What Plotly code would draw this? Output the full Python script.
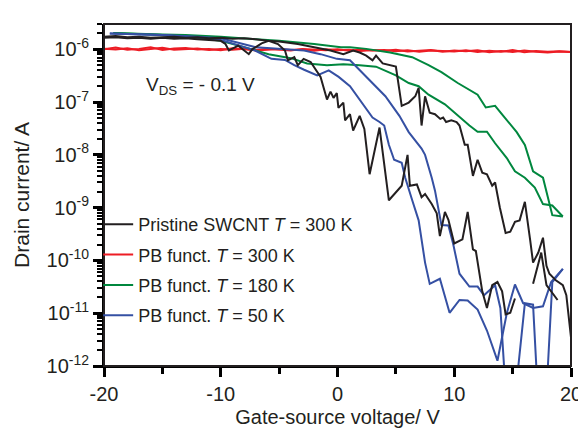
import plotly.graph_objects as go

# ---------------- data (gate voltage V, drain current A) ----------------
red_fwd_V = list(range(-20, 21))
red_fwd_I = [1.00e-6, 1.08e-6, 0.98e-6, 1.02e-6, 1.10e-6, 0.97e-6, 1.04e-6, 1.06e-6, 0.99e-6, 1.01e-6,
             0.96e-6, 1.05e-6, 1.00e-6, 0.97e-6, 1.03e-6, 0.99e-6, 0.95e-6, 1.02e-6, 0.98e-6, 0.96e-6,
             1.00e-6, 0.94e-6, 0.99e-6, 0.95e-6, 0.97e-6, 0.92e-6, 0.96e-6, 0.90e-6, 0.95e-6, 0.93e-6,
             0.91e-6, 0.96e-6, 0.89e-6, 0.94e-6, 0.90e-6, 0.97e-6, 0.88e-6, 0.93e-6, 0.90e-6, 0.92e-6, 0.89e-6]
red_back_V = list(range(-20, 21))
red_back_I = [1.03e-6, 0.99e-6, 1.05e-6, 0.96e-6, 1.01e-6, 1.07e-6, 0.98e-6, 1.00e-6, 1.04e-6, 0.97e-6,
              1.02e-6, 0.98e-6, 1.03e-6, 0.95e-6, 1.00e-6, 1.02e-6, 0.97e-6, 0.99e-6, 0.94e-6, 1.00e-6,
              0.96e-6, 0.98e-6, 0.93e-6, 0.97e-6, 0.94e-6, 0.98e-6, 0.91e-6, 0.94e-6, 0.97e-6, 0.90e-6,
              0.95e-6, 0.92e-6, 0.96e-6, 0.88e-6, 0.93e-6, 0.89e-6, 0.95e-6, 0.90e-6, 0.87e-6, 0.91e-6, 0.89e-6]

black_a_V = [-20, -19, -18, -17, -16, -15, -14, -13, -12, -11, -10, -9.6, -9.3, -8.5, -7.6, -7.3, -6.5, -5.9,
             -5.1, -4.5, -4.25, -3.7, -3.4, -2.9, -2.3, -1.45, -0.9, -0.6, -0.34, -0.06, 0.08, 0.5, 0.65,
             1.07, 1.34, 1.9, 2.3, 2.75, 3.6, 4.4, 5.3, 5.5, 6.0, 6.2, 6.8, 7.2, 7.5, 8.07, 8.5, 8.77, 9.2,
             9.5, 10.0, 10.7, 11.15, 11.6, 11.85, 12.4, 12.8, 13.25, 13.7, 14.1, 14.4, 14.8, 15.2, 16.0,
             16.75, 17.45, 17.9, 18.85]
black_a_I = [1.66e-6, 1.70e-6, 1.62e-6, 1.66e-6, 1.58e-6, 1.66e-6, 1.58e-6, 1.62e-6, 1.55e-6, 1.51e-6,
             1.45e-6, 1.26e-6, 9.5e-7, 1.17e-6, 8.1e-7, 1.0e-6, 1.30e-6, 1.45e-6, 1.26e-6, 9.5e-7, 6.2e-7,
             7.1e-7, 5.0e-7, 6.6e-7, 5.75e-7, 3.0e-7, 1.12e-7, 1.58e-7, 1.2e-7, 1.48e-7, 7.8e-8, 9.8e-8,
             4.5e-8, 5.9e-8, 2.9e-8, 5.5e-8, 3.1e-8, 4.3e-9, 3.3e-8, 1.38e-9, 2.4e-9, 2.6e-9, 1.0e-8, 2.6e-9,
             2.75e-9, 1.58e-9, 1.82e-9, 1.17e-9, 7.8e-10, 2.9e-10, 8.3e-10, 5.9e-10, 2.1e-10, 2.5e-10,
             8.3e-10, 1.62e-10, 1.51e-10, 2.6e-11, 1.26e-11, 3.4e-11, 3.9e-11, 2.6e-11, 9.5e-12, 1.02e-11,
             1.9e-11, None, 3.6e-11, 1.41e-10, 3.4e-11, 1.78e-11]

black_b_V = [-20, -19, -18, -17, -16, -15, -14, -13, -12, -11, -10, -9, -8, -7, -6, -5, -4.25, -3.4, -2,
             -0.6, 0.5, 1.34, 1.9, 2.46, 3.0, 3.3, 3.87, 4.4, 5.0, 5.5, 6.1, 6.66, 6.95, 7.2, 7.5, 7.9, 8.35,
             8.8, 9.05, 9.3, 9.75, 10.2, 10.45, 10.9, 11.15, 11.6, 12.0, 12.4, 12.8, 13.25, 13.5, 13.9, 14.4,
             14.8, 15.2, 15.6, 16.05, 16.5, 16.75, 17.2, 17.6, 17.9, 18.15, 18.7, 19.3, 19.6, 20.0]
black_b_I = [1.74e-6, 1.78e-6, 1.70e-6, 1.74e-6, 1.66e-6, 1.70e-6, 1.74e-6, 1.66e-6, 1.70e-6, 1.62e-6,
             1.66e-6, 1.58e-6, 1.62e-6, 1.55e-6, 1.45e-6, 1.41e-6, 1.35e-6, 1.26e-6, 1.10e-6, 9.5e-7, 8.1e-7,
             9.5e-7, 8.7e-7, 7.6e-7, 6.2e-7, 7.6e-7, 5.4e-7, 5.0e-7, 4.7e-7, 8.5e-8, 9.8e-8, 1.29e-7, 1.86e-7,
             3.6e-8, 1.29e-7, 6.3e-8, 5.9e-8, 4.8e-8, 5.1e-8, 4.2e-8, 4.5e-8, 4.2e-8, 3.6e-8, 1.55e-8, 1.55e-8,
             4.0e-9, 8.1e-9, 4.6e-9, 4.3e-9, 2.6e-9, 3.0e-9, 1.02e-9, 3.3e-10, 3.5e-10, 5.4e-10, 5.75e-10,
             1.29e-9, 2.45e-10, 9.1e-11, 1.41e-10, 2.7e-10, 7.9e-11, 5.6e-11, 4.2e-11, 3.4e-11, 2.2e-11, 3.5e-12]

green_a_V = [-19.2, -17, -15, -13, -10, -7, -5, -2, 0.3, 1.07, 2.46, 4.5, 6.4, 7.8, 8.9, 10.3, 12.0, 12.7,
             13.5, 14.2, 15.35, 16.05, 16.75, 17.6, 18.15, 18.4, 19.3]
green_a_I = [2.04e-6, 2.0e-6, 1.91e-6, 1.86e-6, 1.74e-6, 1.55e-6, 1.45e-6, 1.26e-6, 1.10e-6, 1.10e-6,
             1.02e-6, 8.7e-7, 7.1e-7, 5.0e-7, 3.7e-7, 2.3e-7, 1.38e-7, 7.9e-8, 8.5e-8, 5.5e-8, 2.7e-8,
             1.55e-8, 4.9e-9, 3.7e-9, 1.1e-9, 7.2e-10, 6.8e-10]

green_b_V = [-19.2, -17, -15, -12, -10, -8, -5.9, -4, -2.6, -0.9, 0.5, 1.9, 3.3, 5.0, 6.1, 6.95, 7.8, 9.2,
             10.3, 11.3, 12.0, 12.8, 13.5, 14.5, 15.2, 16.05, 16.9, 17.6, 18.4, 19.3]
green_b_I = [2.04e-6, 1.95e-6, 1.86e-6, 1.66e-6, 1.45e-6, 1.10e-6, 8.1e-7, 6.8e-7, 5.4e-7, 5.0e-7, 5.2e-7,
             5.0e-7, 4.7e-7, 3.2e-7, 2.3e-7, 2.0e-7, 1.38e-7, 9.1e-8, 5.5e-8, 3.6e-8, 2.75e-8, 2.75e-8,
             1.66e-8, 8.7e-9, 4.9e-9, 3.7e-9, 2.4e-9, 1.17e-9, 1.1e-9, 6.8e-10]

blue_a_V = [-19.5, -17, -15, -12, -10, -7, -4.3, -2.86, -1.45, -0.05, 1.07, 2.2, 3.3, 4.1, 5.3, 6.1, 7.2,
            7.5, 8.07, 8.35, 8.9, 9.5, 9.9, 10.45, 11.3, 12.0, 12.55, 13.5, 13.95, 14.35, 15.35, 16.05,
            16.75, 17.1, 17.95, 18.4, 19.3]
blue_a_I = [2.0e-6, 1.95e-6, 1.86e-6, 1.74e-6, 1.62e-6, 1.10e-6, 1.02e-6, 9.5e-7, 8.1e-7, 6.6e-7, 6.2e-7,
            3.5e-7, 2.0e-7, 1.29e-7, 5.5e-8, 2.7e-8, 1.32e-8, 1.0e-8, 3.7e-9, 2.1e-9, 4.7e-10, 4.6e-10,
            2.1e-10, 5.6e-11, 3.2e-11, 3.2e-11, 2.2e-11, 3.4e-11, 1.26e-11, 5e-13, 5e-13, 1.55e-11,
            1.45e-11, 5e-13, 5e-13, 3.9e-11, 6.9e-11]

blue_b_V = [-19.5, -17, -15, -12, -10, -7.06, -5.66, -4.5, -3.7, -2.86, -1.74, -0.75, 0.1, 1.07, 1.9, 3.0,
            3.6, 4.0, 4.4, 4.85, 5.5, 5.8, 6.4, 6.95, 7.5, 7.9, 8.77, 9.6, 10.45, 11.15, 12.0, 12.8, 13.7,
            14.5, 15.2, 15.9, 16.75, 17.6, 18.3, 19.3]
blue_b_I = [2.0e-6, 1.95e-6, 1.86e-6, 1.70e-6, 1.51e-6, 9.5e-7, 6.6e-7, 6.3e-7, 5.0e-7, 4.1e-7, 3.2e-7,
            4.0e-7, 3.0e-7, 2.0e-7, 1.12e-7, 5.1e-8, 4.2e-8, 3.6e-8, 1.55e-8, 8.1e-9, 7.1e-9, 3.7e-9,
            1.38e-9, 5.75e-10, 9.1e-11, 3.6e-11, 4.5e-11, 1.02e-11, 1.78e-11, 1.74e-11, 1.17e-11, 4.7e-12,
            1.26e-12, 1.0e-11, 3.5e-11, 1.55e-11, 1.26e-11, 1.35e-11, 3.9e-11, 6.9e-11]

legend_names = ["Pristine SWCNT <i>T</i> = 300 K", "PB funct. <i>T</i> = 300 K",
                "PB funct. <i>T</i> = 180 K", "PB funct. <i>T</i> = 50 K"]
colors = ["#231f20", "#ed1c24", "#00873e", "#3550a3"]

y_tick_vals = [1e-12, 1e-11, 1e-10, 1e-9, 1e-8, 1e-7, 1e-6]
y_tick_text = ["10<sup>-12</sup>", "10<sup>-11</sup>", "10<sup>-10</sup>", "10<sup>-9</sup>",
               "10<sup>-8</sup>", "10<sup>-7</sup>", "10<sup>-6</sup>"]
x_tick_vals = [-20, -10, 0, 10, 20]
x_tick_text = ["-20", "-10", "0", "10", "20"]
x_minor_vals = [-15, -5, 5, 15]

FONT = "Arial, Liberation Sans, sans-serif"
series = [
    (black_a_V, black_a_I, black_b_V, black_b_I),
    (red_fwd_V, red_fwd_I, red_back_V, red_back_I),
    (green_a_V, green_a_I, green_b_V, green_b_I),
    (blue_a_V, blue_a_I, blue_b_V, blue_b_I),
]

fig = go.Figure()
order = [1, 2, 3, 0]
for k in order:
    xa, ya, xb, yb = series[k]
    fig.add_trace(go.Scatter(x=xa, y=ya, mode="lines", name=legend_names[k], legendgroup=str(k),
                             legendrank=k, line=dict(color=colors[k], width=2), connectgaps=False))
    fig.add_trace(go.Scatter(x=xb, y=yb, mode="lines", name=legend_names[k], legendgroup=str(k),
                             showlegend=False, line=dict(color=colors[k], width=2), connectgaps=False))

axis_col = "#231f20"
fig.update_layout(
    width=586, height=429,
    margin=dict(l=96, r=14, t=16, b=63),
    paper_bgcolor="white", plot_bgcolor="white",
    font=dict(family=FONT, size=20, color=axis_col),
    showlegend=True,
    legend=dict(x=-0.0125, y=0.468, xanchor="left", yanchor="top", bgcolor="rgba(0,0,0,0)",
                font=dict(size=18, family=FONT, color=axis_col), traceorder="grouped",
                tracegroupgap=4, itemwidth=30),
    xaxis=dict(range=[-20, 20], tickmode="array", tickvals=x_tick_vals, ticktext=x_tick_text,
               ticks="outside", ticklen=9, tickwidth=2.5, tickcolor="black",
               minor=dict(tickmode="array", tickvals=x_minor_vals, ticks="outside", ticklen=6,
                          tickwidth=2.5, tickcolor="black"),
               showline=True, linewidth=2, linecolor="black", showgrid=False, zeroline=False,
               title=dict(text="Gate-source voltage/ V", font=dict(size=20), standoff=6)),
    yaxis=dict(type="log", range=[-12, -5.52], tickmode="array", tickvals=y_tick_vals, ticktext=y_tick_text,
               ticks="outside", ticklen=9, tickwidth=2.5, tickcolor="black",
               minor=dict(dtick="D1", ticks="outside", ticklen=5, tickwidth=2, tickcolor="black"),
               showline=True, linewidth=2, linecolor="black", showgrid=False, zeroline=False,
               title=dict(text="Drain current/ A", font=dict(size=21), standoff=11)),
)

# plot frame (top and right edges)
fig.add_shape(type="rect", xref="paper", yref="paper", x0=0, y0=0, x1=1, y1=1,
              line=dict(color=axis_col, width=2), fillcolor="rgba(0,0,0,0)", layer="above")

fig.add_annotation(text="V<sub>DS</sub> = - 0.1 V", xref="paper", yref="paper", x=0.086, y=0.82,
                   xanchor="left", yanchor="middle", showarrow=False, font=dict(size=19, family=FONT, color=axis_col))

fig.write_html("out.html")
